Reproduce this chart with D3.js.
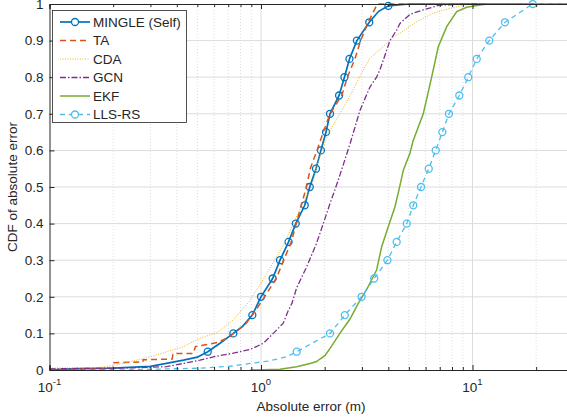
<!DOCTYPE html>
<html>
<head>
<meta charset="utf-8">
<script src="https://cdn.jsdelivr.net/npm/d3@7"></script>
<style>
body { margin: 0; background: #fff; }
text { font-family: "Liberation Sans", Arial, sans-serif; fill: #262626; }
</style>
</head>
<body>
<div id="chart"></div>
<script>
// CDF curves (x = absolute error in m, p = cumulative fraction)
var seriesNames = ["MINGLE (Self)", "TA", "CDA", "GCN", "EKF", "LLS-RS"];

var mingleX = [0.1, 0.125, 0.2, 0.3, 0.43, 0.5, 0.56, 0.64, 0.74, 0.82, 0.91, 1.0, 1.135, 1.23, 1.35, 1.46, 1.61, 1.70, 1.82, 1.92, 2.03, 2.12, 2.34, 2.48, 2.62, 2.84, 3.25, 3.6, 4.0, 5.0, 30];
var mingleP = [0, 0.003, 0.005, 0.01, 0.027, 0.035, 0.05, 0.073, 0.1, 0.12, 0.15, 0.2, 0.25, 0.3, 0.35, 0.4, 0.45, 0.5, 0.55, 0.6, 0.65, 0.7, 0.75, 0.8, 0.85, 0.9, 0.95, 0.98, 0.995, 1, 1];
var mingleMarkX = [0.56, 0.74, 0.91, 1.0, 1.135, 1.23, 1.35, 1.46, 1.61, 1.70, 1.82, 1.92, 2.03, 2.12, 2.34, 2.48, 2.62, 2.84, 3.25, 4.0];
var mingleMarkP = [0.05, 0.1, 0.15, 0.2, 0.25, 0.3, 0.35, 0.4, 0.45, 0.5, 0.55, 0.6, 0.65, 0.7, 0.75, 0.8, 0.85, 0.9, 0.95, 0.995];

var taX = [0.1, 0.2, 0.2, 0.277, 0.277, 0.38, 0.384, 0.478, 0.49, 0.62, 0.71, 0.74, 0.84, 0.97, 1.18, 1.39, 1.55, 1.64, 1.71, 1.84, 1.97, 2.12, 2.41, 2.56, 2.78, 2.96, 3.21, 3.55, 30];
var taP = [0.002, 0.003, 0.02, 0.022, 0.028, 0.03, 0.045, 0.045, 0.064, 0.075, 0.09, 0.1, 0.123, 0.173, 0.25, 0.35, 0.45, 0.5, 0.55, 0.6, 0.65, 0.7, 0.75, 0.8, 0.85, 0.9, 0.95, 1, 1];

var cdaX = [0.1, 0.173, 0.208, 0.3, 0.43, 0.515, 0.62, 0.74, 0.888, 1.03, 1.16, 1.30, 1.42, 1.56, 1.74, 1.82, 1.94, 2.10, 2.36, 2.64, 2.92, 3.25, 3.72, 4.23, 4.54, 5.45, 6.53, 7.83, 9.7, 30];
var cdaP = [0.005, 0.007, 0.014, 0.036, 0.064, 0.087, 0.102, 0.137, 0.19, 0.25, 0.3, 0.35, 0.4, 0.45, 0.5, 0.55, 0.6, 0.65, 0.7, 0.75, 0.8, 0.85, 0.88, 0.91, 0.92, 0.952, 0.975, 0.988, 1, 1];

var gcnX = [0.1, 0.249, 0.358, 0.43, 0.515, 0.62, 0.74, 0.888, 1.026, 1.143, 1.274, 1.34, 1.40, 1.475, 1.645, 1.83, 1.97, 2.12, 2.32, 2.64, 2.94, 3.28, 3.52, 3.65, 3.93, 4.07, 4.38, 4.54, 5.07, 5.85, 7.0, 9.4, 30];
var gcnP = [0.003, 0.006, 0.009, 0.018, 0.027, 0.038, 0.046, 0.056, 0.073, 0.1, 0.128, 0.16, 0.182, 0.225, 0.282, 0.346, 0.4, 0.455, 0.519, 0.619, 0.71, 0.774, 0.8, 0.82, 0.874, 0.9, 0.929, 0.947, 0.972, 0.984, 0.997, 1, 1];

var ekfX = [0.888, 1.23, 1.475, 1.705, 1.83, 1.90, 2.01, 2.16, 2.36, 2.64, 2.87, 3.16, 3.52, 3.72, 4.0, 4.30, 4.49, 4.71, 5.06, 5.23, 5.85, 6.41, 6.89, 7.55, 8.42, 9.39, 10.85, 11.66, 30];
var ekfP = [0, 0.002, 0.009, 0.018, 0.023, 0.03, 0.04, 0.066, 0.1, 0.14, 0.18, 0.22, 0.273, 0.337, 0.392, 0.446, 0.492, 0.546, 0.592, 0.625, 0.7, 0.8, 0.883, 0.938, 0.979, 0.991, 0.997, 1, 1];

var llsX = [0.215, 0.515, 0.74, 0.888, 1.10, 1.32, 1.475, 2.12, 2.49, 2.99, 3.43, 3.96, 4.38, 4.89, 5.25, 5.71, 6.21, 6.70, 7.20, 7.74, 8.66, 9.55, 10.47, 12.0, 14.24, 19.26, 30];
var llsP = [0, 0.005, 0.011, 0.018, 0.025, 0.036, 0.05, 0.1, 0.15, 0.2, 0.25, 0.3, 0.35, 0.4, 0.45, 0.5, 0.55, 0.6, 0.65, 0.7, 0.75, 0.8, 0.85, 0.9, 0.95, 1, 1];
var llsMarkX = [1.475, 2.12, 2.49, 2.99, 3.43, 3.96, 4.38, 4.89, 5.25, 5.71, 6.21, 6.70, 7.20, 7.74, 8.66, 9.55, 10.47, 12.0, 14.24, 19.26];
var llsMarkP = [0.05, 0.1, 0.15, 0.2, 0.25, 0.3, 0.35, 0.4, 0.45, 0.5, 0.55, 0.6, 0.65, 0.7, 0.75, 0.8, 0.85, 0.9, 0.95, 1];

var yTicks = [0, 0.1, 0.2, 0.3, 0.4, 0.5, 0.6, 0.7, 0.8, 0.9, 1];
var xMajor = [0.1, 1, 10];
var xMinor = [0.2, 0.3, 0.4, 0.5, 0.6, 0.7, 0.8, 0.9, 2, 3, 4, 5, 6, 7, 8, 9, 20, 30];
var xExponents = ["-1", "0", "1"];

// canvas
var width = 567, height = 419;
var plotLeft = 49.5, plotTop = 4, plotBottom = 370;
var decade = 211.5;

var x = d3.scaleLog().domain([0.1, 30]).range([plotLeft, plotLeft + decade * Math.log10(300)]);
var y = d3.scaleLinear().domain([0, 1]).range([plotBottom, plotTop]);

var svg = d3.select("#chart").append("svg")
    .attr("width", width)
    .attr("height", height);

// grid lines
var grid = svg.append("g");
grid.selectAll("line.minor")
    .data(xMinor)
    .enter().append("line")
    .attr("x1", function(d) { return x(d); })
    .attr("x2", function(d) { return x(d); })
    .attr("y1", plotTop).attr("y2", plotBottom)
    .style("stroke", "#d4d4d4")
    .style("stroke-width", 0.8)
    .style("stroke-dasharray", "1,2");
grid.selectAll("line.vmajor")
    .data(xMajor.slice(1))
    .enter().append("line")
    .attr("x1", function(d) { return x(d); })
    .attr("x2", function(d) { return x(d); })
    .attr("y1", plotTop).attr("y2", plotBottom)
    .style("stroke", "#dcdcdc")
    .style("stroke-width", 1);
grid.selectAll("line.hmajor")
    .data(yTicks.slice(1, -1))
    .enter().append("line")
    .attr("x1", plotLeft).attr("x2", width)
    .attr("y1", function(d) { return y(d); })
    .attr("y2", function(d) { return y(d); })
    .style("stroke", "#dcdcdc")
    .style("stroke-width", 1);

// curves
function drawCurve(xs, ps, color, lw, dash) {
    var pts = xs.map(function(d, i) { return [d, ps[i]]; });
    var line = d3.line()
        .x(function(d) { return x(d[0]); })
        .y(function(d) { return y(d[1]); });
    svg.append("path")
        .datum(pts)
        .attr("d", line)
        .style("fill", "none")
        .style("stroke", color)
        .style("stroke-width", lw)
        .style("stroke-dasharray", dash);
}

function drawMarkers(xs, ps, color) {
    svg.append("g").selectAll("circle")
        .data(xs)
        .enter().append("circle")
        .attr("cx", function(d) { return x(d); })
        .attr("cy", function(d, i) { return y(ps[i]); })
        .attr("r", 3.5)
        .style("fill", "none")
        .style("stroke", color)
        .style("stroke-width", 1.3);
}

var colors = ["#0072BD", "#D95319", "#EDB120", "#7E2F8E", "#77AC30", "#4DBEEE"];
var widths = [1.7, 1.5, 1, 1.3, 1.5, 1.3];
var dashes = [null, "6,4", "1,1.5", "6,2,1.5,2", null, "5,4"];

drawCurve(mingleX, mingleP, colors[0], widths[0], dashes[0]);
drawMarkers(mingleMarkX, mingleMarkP, colors[0]);
drawCurve(taX, taP, colors[1], widths[1], dashes[1]);
drawCurve(cdaX, cdaP, colors[2], widths[2], dashes[2]);
drawCurve(gcnX, gcnP, colors[3], widths[3], dashes[3]);
drawCurve(ekfX, ekfP, colors[4], widths[4], dashes[4]);
drawCurve(llsX, llsP, colors[5], widths[5], dashes[5]);
drawMarkers(llsMarkX, llsMarkP, colors[5]);

// axes (ticks point inward)
svg.append("g")
    .attr("transform", "translate(0," + plotBottom + ")")
    .call(d3.axisBottom(x).tickValues(xMajor).tickSize(-5).tickFormat(""));
svg.append("g")
    .attr("transform", "translate(0," + plotBottom + ")")
    .call(d3.axisBottom(x).tickValues(xMinor).tickSize(-3).tickFormat(""));
svg.append("g")
    .attr("transform", "translate(0," + plotTop + ")")
    .call(d3.axisTop(x).tickValues(xMajor).tickSize(-5).tickFormat(""));
svg.append("g")
    .attr("transform", "translate(0," + plotTop + ")")
    .call(d3.axisTop(x).tickValues(xMinor).tickSize(-3).tickFormat(""));
svg.append("g")
    .attr("class", "yaxis")
    .attr("transform", "translate(" + plotLeft + ",0)")
    .call(d3.axisLeft(y).tickValues(yTicks).tickSize(-5).tickPadding(6)
        .tickFormat(function(d) { return String(+d.toFixed(1)); }));

svg.selectAll(".domain").style("stroke", "#262626").style("stroke-width", 1);
svg.selectAll(".tick line").style("stroke", "#262626");
svg.selectAll(".yaxis text")
    .style("font-size", "13.5px")
    .style("font-family", "'Liberation Sans', Arial, sans-serif")
    .style("fill", "#262626");

// x tick labels 10^n
var xl = svg.append("g").selectAll("text")
    .data(xMajor)
    .enter().append("text")
    .attr("x", function(d) { return x(d); })
    .attr("y", 392)
    .attr("text-anchor", "middle")
    .style("font-size", "13.5px");
xl.append("tspan").text("10");
xl.append("tspan")
    .attr("dy", -7)
    .style("font-size", "9.5px")
    .text(function(d, i) { return xExponents[i]; });

// axis titles
svg.append("text")
    .attr("x", 311)
    .attr("y", 411)
    .attr("text-anchor", "middle")
    .style("font-size", "13.5px")
    .text("Absolute error (m)");
svg.append("text")
    .attr("transform", "translate(17,187) rotate(-90)")
    .attr("text-anchor", "middle")
    .style("font-size", "13.5px")
    .text("CDF of absolute error");

// legend
var legend = svg.append("g");
legend.append("rect")
    .attr("x", 52.5).attr("y", 10.5)
    .attr("width", 134).attr("height", 112)
    .style("fill", "#fff")
    .style("stroke", "#262626")
    .style("stroke-width", 0.8);
var rows = legend.selectAll("g.row")
    .data(seriesNames)
    .enter().append("g")
    .attr("transform", function(d, i) { return "translate(0," + (22 + i * 18.5) + ")"; });
rows.append("line")
    .attr("x1", 60).attr("x2", 90)
    .attr("y1", 0).attr("y2", 0)
    .style("stroke", function(d, i) { return colors[i]; })
    .style("stroke-width", function(d, i) { return widths[i]; })
    .style("stroke-dasharray", function(d, i) { return dashes[i]; });
rows.filter(function(d, i) { return i == 0 || i == 5; })
    .append("circle")
    .attr("cx", 75).attr("cy", 0).attr("r", 3.5)
    .style("fill", "#fff")
    .style("stroke", function(d) { return d == "LLS-RS" ? colors[5] : colors[0]; })
    .style("stroke-width", 1.3);
rows.append("text")
    .attr("x", 93)
    .attr("y", 0)
    .attr("dy", "0.35em")
    .style("font-size", "13.5px")
    .text(function(d) { return d; });
</script>
</body>
</html>
